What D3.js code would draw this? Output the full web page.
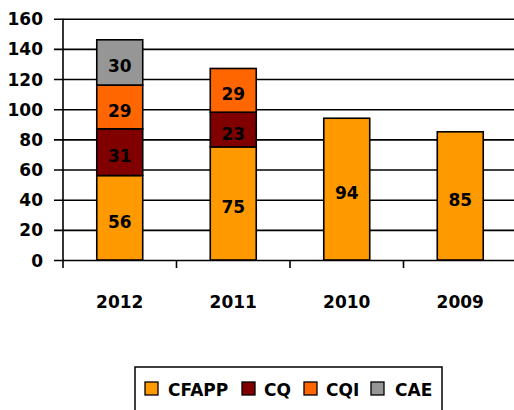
<!DOCTYPE html>
<html>
<head>
<meta charset="utf-8">
<script src="https://cdn.jsdelivr.net/npm/d3@7"></script>
<style>
  html, body { margin: 0; padding: 0; background: #fff; }
  svg { display: block; }
  text { font-family: "DejaVu Sans", sans-serif; font-weight: bold; fill: #000; }
</style>
</head>
<body>
<svg id="chart" width="514" height="410"></svg>
<script>
const categories = ["2012", "2011", "2010", "2009"];
const seriesNames = ["CFAPP", "CQ", "CQI", "CAE"];
const CFAPP = [56, 75, 94, 85];
const CQ = [31, 23, 0, 0];
const CQI = [29, 29, 0, 0];
const CAE = [30, 0, 0, 0];
const colors = ["#FF9900", "#800000", "#FF6600", "#969696"];
const yTicks = [0, 20, 40, 60, 80, 100, 120, 140, 160];

const svg = d3.select("#chart");
const pLeft = 63, pRight = 517, pTop = 18.7, pBottom = 260;
const FS = "17px";

const rows = categories.map((c, i) => ({ cat: c, CFAPP: CFAPP[i], CQ: CQ[i], CQI: CQI[i], CAE: CAE[i] }));
const stack = d3.stack().keys(seriesNames)(rows);

const x = d3.scaleBand().domain(categories).range([pLeft, pRight]).paddingInner(0.595).paddingOuter(0.2975);
const y = d3.scaleLinear().domain([0, 160]).range([pBottom, pTop]);

// gridlines + y axis
const yAxis = d3.axisLeft(y).tickValues(yTicks).tickSize(-(514 - pLeft)).tickSizeOuter(0).tickPadding(20);
const gy = svg.append("g").attr("transform", `translate(${pLeft},0)`).call(yAxis);
gy.select(".domain").remove();
gy.attr("font-family", null).attr("font-size", null);
gy.selectAll(".tick line").attr("x1", -9).attr("stroke", "#000").attr("stroke-width", 1.6);
gy.selectAll(".tick text").style("font-size", FS).attr("fill", "#000").attr("dy", "0.36em");

// vertical axis line
svg.append("line").attr("x1", pLeft).attr("x2", pLeft).attr("y1", pTop).attr("y2", pBottom + 8)
  .attr("stroke", "#000").attr("stroke-width", 1.6);

// category ticks
const step = x.step();
svg.append("g").selectAll("line").data(categories.map((c, i) => i + 1)).join("line")
  .attr("x1", d => pLeft + d * step).attr("x2", d => pLeft + d * step)
  .attr("y1", pBottom).attr("y2", pBottom + 8)
  .attr("stroke", "#000").attr("stroke-width", 1.6);

// bars
const layers = svg.append("g").selectAll("g").data(stack).join("g")
  .attr("fill", (d, i) => colors[i]);
layers.selectAll("rect").data(d => d.filter(s => s[1] - s[0] > 0)).join("rect")
  .attr("x", d => x(d.data.cat))
  .attr("width", x.bandwidth())
  .attr("y", d => y(d[1]))
  .attr("height", d => y(d[0]) - y(d[1]))
  .attr("stroke", "#000").attr("stroke-width", 1.6);

// value labels
layers.selectAll("text").data(d => d.filter(s => s[1] - s[0] > 0)).join("text")
  .attr("x", d => x(d.data.cat) + x.bandwidth() / 2)
  .attr("y", d => (y(d[0]) + y(d[1])) / 2 + 10)
  .attr("text-anchor", "middle")
  .style("font-size", FS)
  .text(d => d[1] - d[0]);

// category labels
svg.append("g").selectAll("text").data(categories).join("text")
  .attr("x", d => x(d) + x.bandwidth() / 2)
  .attr("y", 308)
  .attr("text-anchor", "middle")
  .style("font-size", FS)
  .text(d => d);

// legend
svg.append("rect").attr("x", 135).attr("y", 367).attr("width", 307).attr("height", 60)
  .attr("fill", "#fff").attr("stroke", "#000").attr("stroke-width", 1.5);
const legendX = [145, 242, 304, 371];
const lg = svg.append("g").selectAll("g").data(seriesNames).join("g")
  .attr("transform", (d, i) => `translate(${legendX[i]},382)`);
lg.append("rect").attr("width", 13).attr("height", 13)
  .attr("fill", (d, i) => colors[i]).attr("stroke", "#000").attr("stroke-width", 1.3);
lg.append("text").attr("x", (d, i) => [23, 22, 22, 24][i]).attr("y", 14)
  .style("font-size", FS).text(d => d);
</script>
</body>
</html>
